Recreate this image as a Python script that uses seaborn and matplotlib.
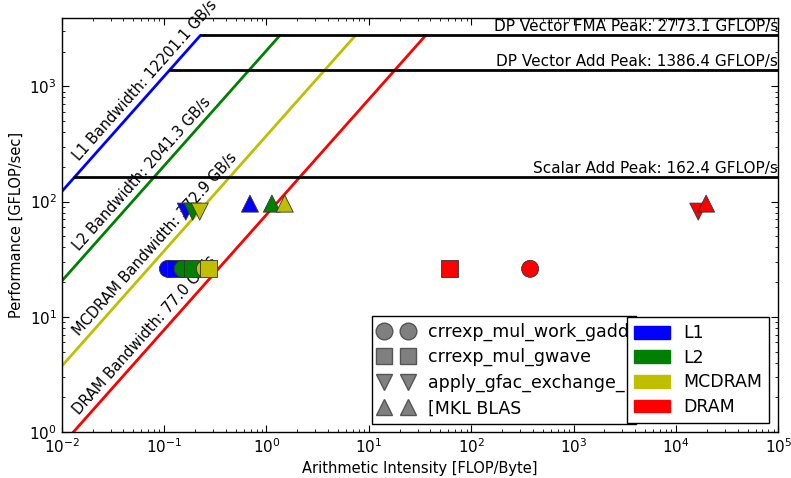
import numpy as np
import pandas as pd
import seaborn as sns
import matplotlib
matplotlib.use("Agg")
import matplotlib.pyplot as plt
from matplotlib.lines import Line2D
from matplotlib.patches import Patch

# roofline ceilings
bw_names = ["L1", "L2", "MCDRAM", "DRAM"]
bw_values = [12201.1, 2041.3, 372.9, 77.0]
bw_colors = ["#0000ff", "#008000", "#bfbf00", "#ff0000"]

peak_names = ["DP Vector FMA Peak", "DP Vector Add Peak", "Scalar Add Peak"]
peak_values = [2773.1, 1386.4, 162.4]

# kernels measured at each memory level
kernels = ["crrexp_mul_work_gadd", "crrexp_mul_gwave", "apply_gfac_exchange_", "[MKL BLAS"]
kernel_markers = ["o", "s", "v", "^"]
kernel_gflops = [26.1, 26.1, 81.8, 96.0]
# arithmetic intensity per kernel, columns = L1, L2, MCDRAM, DRAM
kernel_ai = [
    [0.109, 0.152, 0.25, 376.0],
    [0.13, 0.19, 0.273, 62.0],
    [0.163, 0.19, 0.223, 16500.0],
    [0.69, 1.13, 1.51, 19700.0],
]

xmin, xmax = 1e-2, 1e5
ymin, ymax = 1.0, 3900.0

sns.set_style("ticks", {"xtick.direction": "in", "ytick.direction": "in"})
plt.rcParams["font.family"] = ["DejaVu Sans"]
plt.rcParams["text.color"] = "black"
plt.rcParams["axes.labelcolor"] = "black"
plt.rcParams["axes.edgecolor"] = "black"
plt.rcParams["xtick.color"] = "black"
plt.rcParams["ytick.color"] = "black"
plt.rcParams["xtick.top"] = True
plt.rcParams["ytick.right"] = True
plt.rcParams["xtick.labelsize"] = 11
plt.rcParams["ytick.labelsize"] = 11

fig, ax = plt.subplots(figsize=(7.91, 4.78), dpi=100)
fig.subplots_adjust(left=0.078, right=0.984, top=0.962, bottom=0.096)
ax.set_xscale("log")
ax.set_yscale("log")
ax.set_xlim(xmin, xmax)
ax.set_ylim(ymin, ymax)

top_peak = max(peak_values)
l1_bw = bw_values[0]

# bandwidth lines (up to the top peak)
for name, bw, col in zip(bw_names, bw_values, bw_colors):
    x_end = top_peak / bw
    ax.plot([xmin, x_end], [bw * xmin, top_peak], color=col, lw=2, zorder=2)

# compute peaks (start where the L1 line meets them)
for name, pk in zip(peak_names, peak_values):
    ax.plot([pk / l1_bw, xmax], [pk, pk], color="k", lw=2, zorder=2)
    ax.text(xmax / 1.01, pk * 1.09, "%s: %.1f GFLOP/s" % (name, pk),
            ha="right", va="baseline", fontsize=11)

# angle of the bandwidth lines on screen
fig.canvas.draw()
p1 = ax.transData.transform((1e-2, 1.0))
p2 = ax.transData.transform((1e-1, 10.0))
angle = np.degrees(np.arctan2(p2[1] - p1[1], p2[0] - p1[0]))

x0 = 0.015
for name, bw in zip(bw_names, bw_values):
    ax.text(x0, bw * x0 * 1.22, "%s Bandwidth: %.1f GB/s" % (name, bw),
            rotation=angle, rotation_mode="anchor", ha="left", va="baseline",
            fontsize=10.5)

# measured points, ordered by memory level then kernel
rows = []
for j, lvl in enumerate(bw_names):
    for i, k in enumerate(kernels):
        rows.append({"level": lvl, "kernel": k, "ai": kernel_ai[i][j], "gflops": kernel_gflops[i]})
df = pd.DataFrame(rows)

sns.scatterplot(data=df, x="ai", y="gflops", hue="level", style="kernel",
                palette=dict(zip(bw_names, bw_colors)),
                markers=dict(zip(kernels, kernel_markers)),
                s=150, edgecolor="#333333", linewidth=0.6, legend=False,
                zorder=3, ax=ax)

ax.set_xlabel("Arithmetic Intensity [FLOP/Byte]", fontsize=10.5)
ax.set_ylabel("Performance [GFLOP/sec]", fontsize=10.5)
ax.tick_params(which="major", length=5, width=0.8)
ax.tick_params(which="minor", length=2.5, width=0.6)
for sp in ax.spines.values():
    sp.set_linewidth(1.0)

# legends
k_handles = [Line2D([], [], ls="none", marker=m, color="#808080", markeredgecolor="#555555",
                    markersize=12) for m in kernel_markers]
leg1 = ax.legend(k_handles, kernels, loc="lower left", bbox_to_anchor=(0.433, 0.019),
                 numpoints=2, fontsize=12.5, fancybox=False, framealpha=1,
                 edgecolor="k", borderaxespad=0, handlelength=2.0,
                 handletextpad=0.85, labelspacing=0.42)
leg1.get_frame().set_linewidth(1.0)
ax.add_artist(leg1)

c_handles = [Patch(facecolor=c, edgecolor=c) for c in bw_colors]
leg2 = ax.legend(c_handles, bw_names, loc="lower right", bbox_to_anchor=(0.987, 0.022),
                 fontsize=12.5, fancybox=False, framealpha=1, edgecolor="k",
                 borderaxespad=0, handlelength=2.1, handleheight=0.75,
                 handletextpad=0.75, labelspacing=0.38)
leg2.get_frame().set_linewidth(1.0)

fig.savefig("out.png", dpi=100)
